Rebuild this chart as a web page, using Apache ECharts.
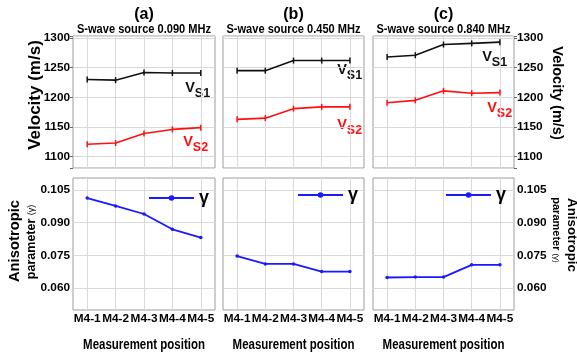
<!DOCTYPE html>
<html><head><meta charset="utf-8">
<script src="https://cdn.jsdelivr.net/npm/echarts@6/dist/echarts.min.js"></script>
<style>html,body{margin:0;padding:0;background:#fff}#c{width:577px;height:356px}</style>
</head><body><div id="c"></div>
<script>
// ---- data ----
const categories = ['M4-1', 'M4-2', 'M4-3', 'M4-4', 'M4-5'];
const vs1_a = [1230, 1229, 1242, 1241, 1241];
const vs2_a = [1121, 1123, 1139, 1146, 1149];
const vs1_b = [1245, 1245, 1262, 1262, 1262];
const vs2_b = [1163, 1165, 1181, 1184, 1184];
const vs1_c = [1268, 1271, 1289, 1291, 1293];
const vs2_c = [1191, 1195, 1211, 1207, 1208];
const gamma_a = [0.1013, 0.0977, 0.0940, 0.0870, 0.0832];
const gamma_b = [0.0747, 0.0711, 0.0711, 0.0676, 0.0676];
const gamma_c = [0.0649, 0.0651, 0.0651, 0.0707, 0.0707];
const panelTitles = ['(a)', '(b)', '(c)'];
const panelSubtitles = ['S-wave source 0.090 MHz', 'S-wave source 0.450 MHz', 'S-wave source 0.840 MHz'];
const xAxisTitle = 'Measurement position';
const velocityTicks = [1100, 1150, 1200, 1250, 1300];
const gammaTicks = [0.060, 0.075, 0.090, 0.105];

// ---- styles / layout ----
const SANS = "'Liberation Sans',Arial,sans-serif";
const GRID_LINE = '#d9d9d9', BORDER = '#9c9c9c', CLEAR = 'rgba(0,0,0,0)';
const BLACK = '#111111', RED = '#ff1010', BLUE = '#1a1aff';
const NARROW_SCALE = 0.82;
const cols = [{left: 73, width: 142}, {left: 223, width: 141}, {left: 373, width: 141}];
const rows = [{top: 36, height: 132}, {top: 178, height: 132}];

const grid = [], xAxis = [], yAxis = [], series = [], title = [], legend = [], graphic = [];
const vs1 = [vs1_a, vs1_b, vs1_c], vs2 = [vs2_a, vs2_b, vs2_c], gam = [gamma_a, gamma_b, gamma_c];
const toXY = arr => arr.map((v, k) => [k + 1, v]);
const tickFont = {fontFamily: SANS, fontWeight: 'bold', fontSize: 11.8, color: '#000'};

rows.forEach((r, ri) => cols.forEach((c, ci) => {
  const i = ri * 3 + ci;
  grid.push({left: c.left, width: c.width, top: r.top, height: r.height, show: true,
    borderColor: BORDER, borderWidth: 1, backgroundColor: '#fff'});
  xAxis.push({gridIndex: i, type: 'value', min: 0.5, max: 5.5, interval: 0.5,
    axisLine: {show: false}, axisTick: {show: false},
    splitLine: {show: true, lineStyle: {color: [CLEAR, GRID_LINE], width: 1}},
    axisLabel: Object.assign({show: ri === 1, margin: 3,
      formatter: v => Number.isInteger(v) && v >= 1 && v <= 5 ? categories[v - 1] : ''}, tickFont)});
  if (ri === 0) {
    yAxis.push({gridIndex: i, type: 'value', min: 1081, max: 1303.4, position: ci === 2 ? 'right' : 'left',
      axisLine: {show: false},
      axisTick: {show: ci !== 1, length: 3, lineStyle: {color: '#666'}},
      splitLine: {show: true, lineStyle: {color: GRID_LINE}},
      axisLabel: Object.assign({show: ci !== 1, margin: 3,
        formatter: v => velocityTicks.includes(v) ? String(v) : ''}, tickFont)});
    series.push({type: 'line', name: 'Vs1', xAxisIndex: i, yAxisIndex: i, data: toXY(vs1[ci]),
      color: BLACK, lineStyle: {width: 1.6, color: BLACK}, symbol: 'rect', symbolSize: [1.5, 6],
      itemStyle: {color: BLACK}, silent: true});
    series.push({type: 'line', name: 'Vs2', xAxisIndex: i, yAxisIndex: i, data: toXY(vs2[ci]),
      color: RED, lineStyle: {width: 1.6, color: RED}, symbol: 'rect', symbolSize: [1.5, 6],
      itemStyle: {color: RED}, silent: true});
  } else {
    yAxis.push({gridIndex: i, type: 'value', min: 0.05, max: 0.1105, interval: 0.005,
      position: ci === 2 ? 'right' : 'left',
      axisLine: {show: false}, axisTick: {show: false},
      splitLine: {show: true, lineStyle: {color: [CLEAR, CLEAR, GRID_LINE]}},
      axisLabel: Object.assign({show: ci !== 1, margin: 3,
        formatter: v => gammaTicks.some(g => Math.abs(g - v) < 1e-7) ? v.toFixed(3) : ''}, tickFont)});
    series.push({type: 'line', name: 'γ', xAxisIndex: i, yAxisIndex: i, data: toXY(gam[ci]),
      color: BLUE, lineStyle: {width: 1.8, color: BLUE}, symbol: 'circle', symbolSize: 3.5,
      itemStyle: {color: BLUE}, silent: true});
  }
}));

// titles
cols.forEach((c, ci) => {
  title.push({text: panelTitles[ci], left: c.left + c.width / 2, top: 7,
    textAlign: 'center', padding: 0,
    textStyle: {fontFamily: SANS, fontWeight: 'bold', fontSize: 16, color: '#000'}});
});

// legends
[[148, 189], [297, 186], [445, 186]].forEach(p => {
  legend.push({data: ['γ'], left: p[0], top: p[1], padding: 0, itemWidth: 45, itemHeight: 7,
    selectedMode: false,
    textStyle: {fontFamily: SANS, fontWeight: 'bold', fontSize: 18, color: '#000'}});
});

// text helpers
const txt = (x, y, rot, text, size, extra) => ({type: 'text', x, y, rotation: rot, silent: true,
  style: Object.assign({text, fontFamily: SANS, fontWeight: 'bold', fontSize: size, fill: '#000',
    align: 'center', verticalAlign: 'middle'}, extra || {})});
const narrowTxt = (x, y, text, size) => Object.assign(txt(x, y, 0, text, size), {scaleX: NARROW_SCALE});

// subtitles and x-axis titles (condensed bold)
cols.forEach((c, ci) => {
  graphic.push(narrowTxt(c.left + c.width / 2, 29, panelSubtitles[ci], 13.5));
  graphic.push(narrowTxt(c.left + c.width / 2, 345, xAxisTitle, 14));
});

// y-axis titles
graphic.push(txt(35.5, 95, Math.PI / 2, 'Velocity (m/s)', 17));
graphic.push(txt(557, 93, -Math.PI / 2, 'Velocity (m/s)', 14.5));
graphic.push(txt(15, 241, Math.PI / 2, 'Anisotropic', 14.8));
graphic.push(txt(32, 242, Math.PI / 2, '{b|parameter} {s|(γ)}', 12, {rich: {
  b: {fontFamily: SANS, fontWeight: 'bold', fontSize: 12.5, fill: '#000'},
  s: {fontFamily: SANS, fontSize: 9, fill: '#000'}}}));
graphic.push(txt(571.5, 235, -Math.PI / 2, 'Anisotropic', 13.3));
graphic.push(txt(556.5, 230, -Math.PI / 2, '{b|parameter} {s|(γ)}', 10.5, {rich: {
  b: {fontFamily: SANS, fontWeight: 'bold', fontSize: 11, fill: '#000'},
  s: {fontFamily: SANS, fontSize: 8, fill: '#000'}}}));

// V_S labels
const vsLabel = (x, y, sub, color) => ({type: 'group', x, y, silent: true, children: [
  {type: 'text', x: 0, y: 0, style: {text: 'V', fontFamily: SANS, fontWeight: 'bold', fontSize: 14.5,
    fill: color, align: 'center', verticalAlign: 'middle'}},
  {type: 'text', x: 12.5, y: 6, style: {text: sub, fontFamily: SANS, fontWeight: 'bold', fontSize: 12.5,
    fill: color, align: 'center', verticalAlign: 'middle'}}]});
graphic.push(vsLabel(190, 88, 'S1', BLACK));
graphic.push(vsLabel(188, 142, 'S2', RED));
graphic.push(vsLabel(342, 70, 'S1', BLACK));
graphic.push(vsLabel(342, 125, 'S2', RED));
graphic.push(vsLabel(487, 57, 'S1', BLACK));
graphic.push(vsLabel(492, 108, 'S2', RED));

const chart = echarts.init(document.getElementById('c'), null, {renderer: 'canvas'});
chart.setOption({animation: false, backgroundColor: '#fff', grid, xAxis, yAxis, series, title, legend, graphic});
</script></body></html>
